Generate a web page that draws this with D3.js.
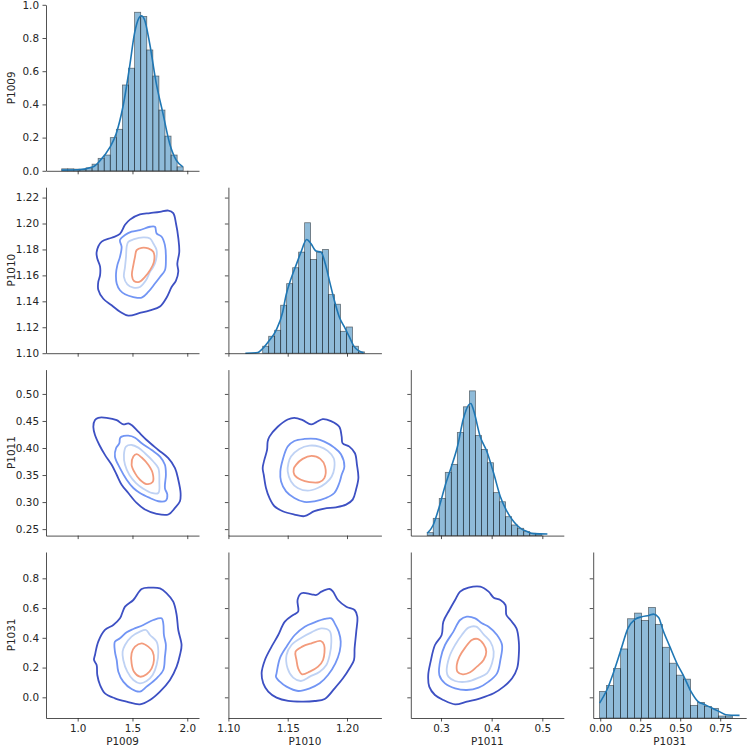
<!DOCTYPE html>
<html>
<head>
<meta charset="utf-8">
<script src="https://cdn.jsdelivr.net/npm/d3@7"></script>
<style>
  body { margin: 0; background: #fff; }
  text { font-family: "DejaVu Sans", sans-serif; }
</style>
</head>
<body>
<div id="chart"></div>
<script>
const variables = ["P1009", "P1010", "P1011", "P1031"]

// axis limits
const xLimits = [[0.711, 2.107], [1.10, 1.229], [0.2404, 0.5424], [-0.044, 0.9125]]
const yLimits = [[0, 1], [1.10, 1.228], [0.238, 0.545], [-0.139, 0.977]]

const xTicks = [[1.0, 1.5, 2.0], [1.10, 1.15, 1.20], [0.3, 0.4, 0.5], [0, 0.25, 0.5, 0.75]]
const xFormats = [".1f", ".2f", ".1f", ".2f"]
const yTicks = [[0, 0.2, 0.4, 0.6, 0.8, 1.0], [1.10, 1.12, 1.14, 1.16, 1.18, 1.20, 1.22],
  [0.25, 0.30, 0.35, 0.40, 0.45, 0.50], [0, 0.2, 0.4, 0.6, 0.8]]
const yFormats = [".1f", ".2f", ".2f", ".1f"]

// histograms on the diagonal (height as share of the hidden axis)
const histStart = [0.854, 1.1289, 0.2728, -0.004]
const histWidth = [0.05545, 0.00505, 0.0119, 0.04375]
const histP1009 = [0.012, 0.012, 0.01, 0.008, 0.018, 0.04, 0.075, 0.095, 0.2, 0.25, 0.517, 0.618, 0.955, 0.93, 0.728, 0.571, 0.366, 0.209, 0.095, 0.024]
const histP1010 = [0.042, 0.102, 0.138, 0.289, 0.419, 0.515, 0.609, 0.786, 0.565, 0.609, 0.625, 0.353, 0.295, 0.132, 0.158, 0.042, 0.008]
const histP1011 = [0.018, 0.104, 0.224, 0.381, 0.429, 0.621, 0.776, 0.872, 0.603, 0.519, 0.439, 0.259, 0.204, 0.114, 0.064, 0.044, 0.024, 0.014, 0.010]
const histP1031 = [0.16, 0.196, 0.298, 0.416, 0.598, 0.632, 0.588, 0.666, 0.564, 0.426, 0.33, 0.258, 0.234, 0.076, 0.094, 0.07, 0.058, 0.012, 0.012]

// kde curves on the diagonal
const kdeP1009 = [[0.854, 0.004], [1.0, 0.006], [1.142, 0.024], [1.20, 0.058], [1.292, 0.139], [1.352, 0.225], [1.413, 0.386], [1.474, 0.628], [1.519, 0.829], [1.558, 0.92], [1.58, 0.934], [1.61, 0.91], [1.656, 0.77], [1.717, 0.527], [1.778, 0.346], [1.839, 0.165], [1.899, 0.064], [1.96, 0.024]]
const kdeP1010 = [[1.1143, 0], [1.1247, 0.004], [1.1289, 0.028], [1.1346, 0.078], [1.1402, 0.138], [1.1458, 0.248], [1.1486, 0.349], [1.1528, 0.449], [1.1570, 0.529], [1.1612, 0.609], [1.1660, 0.685], [1.1697, 0.659], [1.1739, 0.615], [1.1781, 0.609], [1.1817, 0.539], [1.1851, 0.439], [1.1893, 0.319], [1.1935, 0.218], [1.1978, 0.158], [1.2020, 0.098], [1.2062, 0.038], [1.2138, 0.002]]
const kdeP1011 = [[0.2728, 0.014], [0.2847, 0.064], [0.2966, 0.174], [0.3086, 0.305], [0.3205, 0.415], [0.3324, 0.535], [0.3443, 0.705], [0.3543, 0.786], [0.3589, 0.796], [0.3642, 0.756], [0.3775, 0.595], [0.3907, 0.505], [0.4040, 0.375], [0.4172, 0.234], [0.4305, 0.144], [0.4437, 0.084], [0.4570, 0.044], [0.4702, 0.024], [0.4835, 0.012], [0.5100, 0.010]]
const kdeP1031 = [[-0.004, 0.09], [0.042, 0.17], [0.085, 0.28], [0.129, 0.41], [0.173, 0.54], [0.217, 0.594], [0.260, 0.61], [0.304, 0.618], [0.333, 0.626], [0.365, 0.606], [0.392, 0.53], [0.435, 0.43], [0.479, 0.33], [0.523, 0.25], [0.567, 0.16], [0.610, 0.10], [0.654, 0.08], [0.698, 0.06], [0.742, 0.04], [0.785, 0.02], [0.871, 0.016]]

// 2d kde contour lines, outer level first
const kde2d_P1009_P1010 = [
  [[1.173, 1.178], [1.219, 1.186], [1.310, 1.189], [1.386, 1.192], [1.432, 1.199], [1.477, 1.203], [1.568, 1.207], [1.660, 1.208], [1.751, 1.209], [1.827, 1.210], [1.872, 1.208], [1.897, 1.200], [1.918, 1.189], [1.927, 1.178], [1.909, 1.169], [1.918, 1.163], [1.897, 1.156], [1.857, 1.151], [1.812, 1.143], [1.751, 1.136], [1.660, 1.133], [1.568, 1.131], [1.462, 1.129], [1.386, 1.132], [1.310, 1.137], [1.234, 1.142], [1.188, 1.149], [1.188, 1.155], [1.204, 1.160], [1.204, 1.167], [1.179, 1.173]],
  [[1.386, 1.1872], [1.432, 1.1911], [1.492, 1.1937], [1.568, 1.1949], [1.660, 1.1975], [1.705, 1.1975], [1.720, 1.1924], [1.766, 1.1898], [1.796, 1.1833], [1.805, 1.1717], [1.796, 1.1640], [1.751, 1.1588], [1.705, 1.1537], [1.644, 1.1472], [1.584, 1.1428], [1.508, 1.1433], [1.432, 1.1454], [1.386, 1.1485], [1.356, 1.1537], [1.350, 1.1614], [1.362, 1.1679], [1.386, 1.1743], [1.401, 1.1820]],
  [[1.462, 1.1859], [1.508, 1.1877], [1.599, 1.1893], [1.660, 1.1885], [1.690, 1.1846], [1.720, 1.1795], [1.714, 1.1717], [1.690, 1.1666], [1.660, 1.1627], [1.623, 1.1562], [1.568, 1.1511], [1.508, 1.1506], [1.453, 1.1531], [1.422, 1.1588], [1.432, 1.1666], [1.441, 1.1743], [1.447, 1.1820]],
  [[1.538, 1.1795], [1.584, 1.1813], [1.644, 1.1808], [1.690, 1.1782], [1.696, 1.1704], [1.660, 1.1640], [1.614, 1.1588], [1.562, 1.1550], [1.514, 1.1557], [1.495, 1.1601], [1.508, 1.1679], [1.523, 1.1743]]
]
const kde2d_P1009_P1011 = [
  [[1.143, 0.4393], [1.158, 0.4516], [1.188, 0.4559], [1.264, 0.4559], [1.356, 0.4516], [1.416, 0.4436], [1.462, 0.4455], [1.492, 0.4424], [1.553, 0.4301], [1.629, 0.4148], [1.736, 0.3964], [1.827, 0.3811], [1.888, 0.3627], [1.918, 0.3413], [1.939, 0.3168], [1.933, 0.3015], [1.888, 0.2892], [1.827, 0.2770], [1.720, 0.2782], [1.614, 0.2862], [1.538, 0.2984], [1.462, 0.3168], [1.401, 0.3321], [1.356, 0.3505], [1.310, 0.3689], [1.249, 0.3873], [1.198, 0.4056], [1.158, 0.4240]],
  [[1.386, 0.4179], [1.401, 0.4210], [1.462, 0.4228], [1.523, 0.4191], [1.584, 0.4087], [1.675, 0.3964], [1.751, 0.3842], [1.796, 0.3689], [1.805, 0.3505], [1.796, 0.3260], [1.818, 0.3137], [1.805, 0.3027], [1.736, 0.3015], [1.660, 0.3076], [1.568, 0.3168], [1.508, 0.3260], [1.447, 0.3413], [1.386, 0.3627], [1.340, 0.3842], [1.350, 0.3995], [1.380, 0.4087]],
  [[1.441, 0.4026], [1.492, 0.4056], [1.553, 0.4007], [1.614, 0.3903], [1.690, 0.3750], [1.736, 0.3627], [1.745, 0.3382], [1.736, 0.3168], [1.675, 0.3168], [1.599, 0.3248], [1.532, 0.3352], [1.471, 0.3505], [1.432, 0.3689], [1.422, 0.3873]],
  [[1.508, 0.3842], [1.538, 0.3885], [1.584, 0.3824], [1.644, 0.3689], [1.684, 0.3536], [1.684, 0.3370], [1.629, 0.3333], [1.568, 0.3413], [1.523, 0.3536], [1.492, 0.3689]]
]
const kde2d_P1010_P1011 = [
  [[1.1346, 0.4210], [1.1416, 0.4393], [1.1500, 0.4528], [1.1556, 0.4559], [1.1626, 0.4516], [1.1697, 0.4436], [1.1739, 0.4473], [1.1795, 0.4534], [1.1865, 0.4498], [1.1935, 0.4393], [1.1955, 0.4210], [1.1963, 0.4087], [1.2020, 0.4026], [1.2067, 0.3903], [1.2084, 0.3689], [1.2096, 0.3444], [1.2076, 0.3229], [1.2048, 0.3045], [1.1992, 0.2953], [1.1907, 0.2904], [1.1809, 0.2880], [1.1725, 0.2831], [1.1640, 0.2739], [1.1556, 0.2770], [1.1458, 0.2831], [1.1388, 0.2923], [1.1346, 0.3076], [1.1317, 0.3260], [1.1298, 0.3505], [1.1289, 0.3627], [1.1303, 0.3781], [1.1326, 0.3964], [1.1331, 0.4118]],
  [[1.1500, 0.4026], [1.1556, 0.4130], [1.1640, 0.4167], [1.1739, 0.4167], [1.1809, 0.4118], [1.1893, 0.4007], [1.1949, 0.3885], [1.1978, 0.3658], [1.1955, 0.3505], [1.1935, 0.3352], [1.1893, 0.3168], [1.1823, 0.3076], [1.1725, 0.3015], [1.1640, 0.3002], [1.1556, 0.3076], [1.1486, 0.3199], [1.1444, 0.3382], [1.1438, 0.3566], [1.1458, 0.3781]],
  [[1.1528, 0.3842], [1.1598, 0.3983], [1.1683, 0.4044], [1.1767, 0.4026], [1.1837, 0.3946], [1.1888, 0.3811], [1.1893, 0.3627], [1.1871, 0.3474], [1.1823, 0.3352], [1.1753, 0.3260], [1.1669, 0.3211], [1.1584, 0.3260], [1.1528, 0.3382], [1.1500, 0.3566], [1.1506, 0.3719]],
  [[1.1570, 0.3689], [1.1626, 0.3799], [1.1702, 0.3854], [1.1775, 0.3799], [1.1815, 0.3658], [1.1809, 0.3444], [1.1767, 0.3370], [1.1683, 0.3370], [1.1612, 0.3413], [1.1556, 0.3505], [1.1551, 0.3615]]
]
const kde2d_P1009_P1031 = [
  [[1.158, 0.2846], [1.188, 0.3742], [1.249, 0.4527], [1.325, 0.4863], [1.386, 0.5311], [1.432, 0.6095], [1.508, 0.6543], [1.584, 0.7283], [1.660, 0.7373], [1.751, 0.7328], [1.812, 0.6992], [1.872, 0.6431], [1.903, 0.5535], [1.918, 0.4527], [1.948, 0.3518], [1.933, 0.2846], [1.903, 0.2062], [1.842, 0.1165], [1.751, 0.0381], [1.660, -0.0179], [1.568, -0.0471], [1.447, -0.0291], [1.340, -0.0067], [1.249, 0.0269], [1.204, 0.0829], [1.179, 0.1501], [1.173, 0.2174], [1.149, 0.2510]],
  [[1.340, 0.3742], [1.386, 0.3966], [1.447, 0.4370], [1.508, 0.4594], [1.599, 0.4863], [1.690, 0.5199], [1.766, 0.5311], [1.781, 0.4975], [1.787, 0.4190], [1.805, 0.3518], [1.796, 0.2734], [1.781, 0.1838], [1.720, 0.1277], [1.629, 0.0717], [1.568, 0.0381], [1.492, 0.0560], [1.416, 0.1053], [1.371, 0.1725], [1.356, 0.2510], [1.340, 0.3070]],
  [[1.432, 0.3518], [1.492, 0.4078], [1.568, 0.4415], [1.623, 0.4527], [1.660, 0.4190], [1.720, 0.3742], [1.736, 0.3070], [1.720, 0.2174], [1.684, 0.1501], [1.629, 0.1098], [1.568, 0.0941], [1.508, 0.1165], [1.453, 0.1725], [1.416, 0.2510], [1.410, 0.3070]],
  [[1.492, 0.2958], [1.523, 0.3406], [1.584, 0.3630], [1.644, 0.3406], [1.684, 0.3070], [1.696, 0.2510], [1.675, 0.1950], [1.629, 0.1546], [1.568, 0.1389], [1.514, 0.1725], [1.492, 0.2286]]
]
const kde2d_P1010_P1031 = [
  [[1.1280, 0.1613], [1.1308, 0.2510], [1.1364, 0.3406], [1.1420, 0.4190], [1.1476, 0.5087], [1.1546, 0.5535], [1.1588, 0.5759], [1.1583, 0.6543], [1.1616, 0.6992], [1.1700, 0.6924], [1.1742, 0.6880], [1.1784, 0.7104], [1.1854, 0.7283], [1.1882, 0.7104], [1.1924, 0.6543], [1.1994, 0.6095], [1.2064, 0.5871], [1.2087, 0.5423], [1.2078, 0.4415], [1.2064, 0.3294], [1.2059, 0.2510], [1.2022, 0.1950], [1.1966, 0.1277], [1.1896, 0.0605], [1.1812, -0.0112], [1.1728, -0.0246], [1.1630, -0.0291], [1.1504, -0.0246], [1.1406, -0.0022], [1.1336, 0.0381], [1.1294, 0.0941]],
  [[1.1406, 0.1613], [1.1434, 0.2622], [1.1490, 0.3406], [1.1560, 0.4190], [1.1644, 0.4751], [1.1728, 0.5042], [1.1812, 0.5266], [1.1868, 0.5311], [1.1896, 0.4975], [1.1930, 0.4415], [1.1947, 0.3742], [1.1938, 0.3070], [1.1902, 0.2286], [1.1840, 0.1501], [1.1770, 0.0941], [1.1686, 0.0605], [1.1588, 0.0426], [1.1490, 0.0717], [1.1434, 0.1053], [1.1401, 0.1389]],
  [[1.1490, 0.2846], [1.1532, 0.3518], [1.1616, 0.4011], [1.1700, 0.4370], [1.1784, 0.4639], [1.1854, 0.4459], [1.1868, 0.3742], [1.1854, 0.2846], [1.1826, 0.2174], [1.1770, 0.1725], [1.1686, 0.1389], [1.1611, 0.1098], [1.1546, 0.1322], [1.1499, 0.1950]],
  [[1.1566, 0.3070], [1.1622, 0.3406], [1.1700, 0.3630], [1.1779, 0.3787], [1.1807, 0.3518], [1.1798, 0.2510], [1.1756, 0.2062], [1.1686, 0.1725], [1.1622, 0.1546], [1.1588, 0.1950], [1.1574, 0.2510]]
]
const kde2d_P1011_P1031 = [
  [[0.2748, 0.1501], [0.2795, 0.2398], [0.2881, 0.3518], [0.3013, 0.4190], [0.3046, 0.5087], [0.3166, 0.5871], [0.3278, 0.6543], [0.3377, 0.7104], [0.3543, 0.7373], [0.3775, 0.7440], [0.3940, 0.7104], [0.4040, 0.6700], [0.4172, 0.6543], [0.4272, 0.6207], [0.4291, 0.5535], [0.4371, 0.5199], [0.4490, 0.4639], [0.4536, 0.3742], [0.4536, 0.2846], [0.4503, 0.1950], [0.4404, 0.1277], [0.4238, 0.0717], [0.4040, 0.0269], [0.3775, -0.0067], [0.3510, -0.0291], [0.3278, -0.0471], [0.3046, -0.0179], [0.2881, 0.0157], [0.2768, 0.0717]],
  [[0.2967, 0.1501], [0.2993, 0.2622], [0.3079, 0.3518], [0.3245, 0.4415], [0.3377, 0.5199], [0.3510, 0.5423], [0.3675, 0.5311], [0.3808, 0.4975], [0.3940, 0.4751], [0.4106, 0.4190], [0.4205, 0.3518], [0.4172, 0.2510], [0.4106, 0.1613], [0.3940, 0.1053], [0.3742, 0.0650], [0.3510, 0.0493], [0.3278, 0.0605], [0.3079, 0.0941]],
  [[0.3113, 0.1725], [0.3166, 0.2734], [0.3278, 0.3518], [0.3411, 0.4190], [0.3543, 0.4683], [0.3695, 0.4751], [0.3841, 0.4235], [0.3974, 0.3742], [0.4040, 0.3070], [0.4007, 0.2286], [0.3907, 0.1613], [0.3742, 0.1322], [0.3510, 0.1053], [0.3278, 0.1098], [0.3146, 0.1389]],
  [[0.3311, 0.2174], [0.3364, 0.2734], [0.3477, 0.3339], [0.3609, 0.3854], [0.3722, 0.3922], [0.3841, 0.3563], [0.3894, 0.3070], [0.3841, 0.2510], [0.3709, 0.2062], [0.3576, 0.1681], [0.3430, 0.1546], [0.3325, 0.1725]]
]

const hists = [histP1009, histP1010, histP1011, histP1031]
const kdes = [kdeP1009, kdeP1010, kdeP1011, kdeP1031]
// lower triangle cells, keyed "row-col"
const contours = {
  "1-0": kde2d_P1009_P1010,
  "2-0": kde2d_P1009_P1011,
  "2-1": kde2d_P1010_P1011,
  "3-0": kde2d_P1009_P1031,
  "3-1": kde2d_P1010_P1031,
  "3-2": kde2d_P1011_P1031
}

const levelColors = ["#3d50c3", "#7295f4", "#bfd2f4", "#f39b7c"]
const ink = "#262626"

const width = 747, height = 750
const cellW = 153, cellH = 166, pitch = 182.4
const left0 = 46, top0 = 4.8

const svg = d3.select("#chart")
  .append("svg")
  .attr("width", width)
  .attr("height", height)

function styleAxis(g) {
  g.attr("font-family", null).attr("font-size", null)
  g.select(".domain").attr("stroke", ink).attr("stroke-width", 0.8)
  g.selectAll(".tick line").attr("stroke", ink).attr("stroke-width", 0.8)
  g.selectAll(".tick text").attr("fill", ink).style("font-size", "10.4px")
}

for (let i = 0; i < variables.length; i++) {
  for (let j = 0; j <= i; j++) {
    const cell = svg.append("g")
      .attr("transform", `translate(${left0 + j * pitch},${top0 + i * pitch})`)

    const x = d3.scaleLinear().domain(xLimits[j]).range([0, cellW])
    const y = d3.scaleLinear().domain(yLimits[i]).range([cellH, 0])

    if (i === j) {
      // diagonal: histogram + kde on a hidden axis
      const yd = d3.scaleLinear().domain([0, 1]).range([cellH, 0])
      const bars = hists[j].map((h, k) => ({ x0: histStart[j] + k * histWidth[j], x1: histStart[j] + (k + 1) * histWidth[j], h }))
      cell.selectAll("rect.bar")
        .data(bars)
        .join("rect")
        .attr("class", "bar")
        .attr("x", d => x(d.x0))
        .attr("width", d => x(d.x1) - x(d.x0))
        .attr("y", d => yd(d.h))
        .attr("height", d => yd(0) - yd(d.h))
        .attr("fill", "#1f77b4")
        .attr("fill-opacity", 0.5)
        .attr("stroke", "#000")
        .attr("stroke-opacity", 0.5)
        .attr("stroke-width", 0.8)

      cell.append("path")
        .datum(kdes[j])
        .attr("fill", "none")
        .attr("stroke", "#1f77b4")
        .attr("stroke-width", 1.6)
        .attr("d", d3.line().x(d => x(d[0])).y(d => yd(d[1])).curve(d3.curveMonotoneX))
    } else {
      const levels = contours[`${i}-${j}`]
      const line = d3.line().x(d => x(d[0])).y(d => y(d[1])).curve(d3.curveCatmullRomClosed.alpha(0.5))
      cell.selectAll("path.level")
        .data(levels)
        .join("path")
        .attr("class", "level")
        .attr("fill", "none")
        .attr("stroke", (d, k) => levelColors[k])
        .attr("stroke-width", 1.8)
        .attr("d", line)
    }

    // bottom axis, labels on last row only
    cell.append("g")
      .attr("transform", `translate(0,${cellH})`)
      .call(d3.axisBottom(x)
        .tickValues(xTicks[j])
        .tickSize(3.5)
        .tickSizeOuter(0)
        .tickPadding(3.5)
        .tickFormat(i === variables.length - 1 ? d3.format(xFormats[j]) : ""))
      .call(styleAxis)

    // left axis, labels on first column only
    cell.append("g")
      .call(d3.axisLeft(y)
        .tickValues(yTicks[i])
        .tickSize(3.5)
        .tickSizeOuter(0)
        .tickPadding(3.5)
        .tickFormat(j === 0 ? d3.format(yFormats[i]) : ""))
      .call(styleAxis)
  }
}

// axis titles
svg.selectAll("text.xlabel")
  .data(variables)
  .join("text")
  .attr("class", "xlabel")
  .attr("x", (d, k) => left0 + k * pitch + cellW / 2)
  .attr("y", 745)
  .attr("text-anchor", "middle")
  .attr("fill", ink)
  .style("font-size", "10.4px")
  .text(d => d)

svg.selectAll("text.ylabel")
  .data(variables)
  .join("text")
  .attr("class", "ylabel")
  .attr("transform", (d, k) => `translate(14.5,${top0 + k * pitch + cellH / 2}) rotate(-90)`)
  .attr("text-anchor", "middle")
  .attr("fill", ink)
  .style("font-size", "10.4px")
  .text(d => d)
</script>
</body>
</html>
